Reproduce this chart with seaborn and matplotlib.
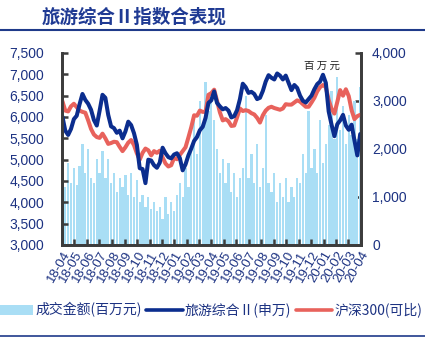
import numpy as np
import pandas as pd
import matplotlib
matplotlib.use("Agg")
import matplotlib.pyplot as plt
import matplotlib.dates as mdates
from matplotlib.patches import Patch
from matplotlib.lines import Line2D
from matplotlib.ticker import FuncFormatter, MultipleLocator
import seaborn as sns

sns.set_theme(style="white")
plt.rcParams["font.family"] = ["Liberation Sans", "Noto Sans CJK SC", "DejaVu Sans"]

# Weekly closing values, Apr 2018 - Mar 2020
tourism_index = [
    6010, 5680, 5580, 5720, 5950, 6030, 6300, 6540, 6400, 6310,
    6170, 5930, 5800, 6150, 6520, 6450, 6050, 5780, 5740, 5630,
    5680, 5500, 5660, 5890, 5810, 5620, 5350, 4800, 4780, 4450,
    5000, 4980, 4870, 4810, 4930, 5280, 5150, 5060, 5030, 5120,
    5150, 5040, 4750, 4890, 5100, 5260, 5440, 5530, 5690, 5770,
    5980, 6330, 6390, 6600, 6330, 6250, 6180, 6210, 6150, 5990,
    6020, 6160, 6420, 6780, 6700, 6565, 6590, 6540, 6420, 6450,
    6610, 6830, 6980, 6920, 6880, 7020, 6970, 6880, 6970, 6800,
    6630, 6750, 6680, 6500, 6380, 6340, 6420, 6500, 6650, 6770,
    6830, 6990, 6800, 6130, 5820, 5550, 5830, 5920, 6050, 5800,
    5700, 5820, 5450, 5100, 5600,
]
csi300_rebased = [
    6370, 6150, 6130, 6250, 6310, 6230, 6150, 6120, 6100, 5920,
    5720, 5590, 5530, 5510, 5610, 5500, 5370, 5390, 5420, 5410,
    5300, 5200, 5290, 5400, 5460, 5340, 5150, 5000, 5160, 5260,
    5220, 5100, 5200, 5160, 5210, 5050, 4910, 4840, 4870, 5040,
    5010, 5110, 5200, 5290, 5520, 5760, 6040, 6030, 6150, 6120,
    6120, 6520, 6560, 6640, 6380, 6110, 5920, 5950, 5900, 5790,
    5800, 5990, 6200, 6140, 6160, 6140, 6090, 6060, 5980, 5870,
    6040, 6150, 6215, 6240, 6210, 6190, 6170, 6200, 6300, 6290,
    6290, 6340, 6390, 6360, 6300, 6240, 6240, 6340, 6450, 6600,
    6700, 6750, 6700, 6400, 6190, 6080, 6350, 6630, 6500, 6650,
    6490, 6160, 5950, 6020, 6050,
]
turnover = [
    1500, 1200, 1700, 1300, 1600, 1250, 1650, 2100, 1500, 2000,
    1400, 1300, 1800, 1500, 1950, 1400, 1800, 1300, 1500, 1100,
    1400, 1200, 1450, 1050, 1500, 1000, 1350, 900, 1050, 800,
    1000, 750, 900, 700, 800, 550, 1000, 650, 900, 700,
    1050, 1300, 1000, 1600, 1200, 2000, 2600, 1900, 3000, 2500,
    3400, 2800, 3100, 2600, 2000, 1500, 1800, 1300, 1700, 1100,
    1500, 1000, 1400, 1600, 3100, 1400, 1900, 1300, 2100, 1200,
    1600, 2700, 1300, 1100, 1500, 900, 1300, 1000, 1400, 900,
    1200, 1000, 1400, 1300, 1900, 1500, 2800, 1600, 2000, 1500,
    2600, 1700, 2100, 2500, 3200, 2200, 3500, 2400, 2900, 2100,
    2700, 2300, 3000, 2200, 3300,
]

dates = pd.date_range("2018-04-02", periods=len(tourism_index), freq="7D")
df = pd.DataFrame({
    "date": dates,
    "旅游综合Ⅱ(申万)": tourism_index,
    "沪深300(可比)": csi300_rebased,
    "成交金额(百万元)": turnover,
})

navy = "#1c3282"
blue_line = "#0b2d8e"
red_line = "#e8625c"
bar_color = "#a9def5"
spine_color = "#3c3c3c"

W, H = 425, 339
fig = plt.figure(figsize=(W / 100, H / 100), dpi=100)
fig.patch.set_facecolor("white")

x0, x1, ytop, ybot = 62, 361, 53, 245
ax = fig.add_axes([x0 / W, 1 - ybot / H, (x1 - x0) / W, (ybot - ytop) / H])
ax2 = ax.twinx()

# turnover bars on the right axis, drawn beneath the index lines
ax2.bar(df["date"], df["成交金额(百万元)"], width=5.6, color=bar_color,
        edgecolor="none")
ax2.set_ylim(0, 4000)
ax2.yaxis.set_major_locator(MultipleLocator(1000))

sns.lineplot(data=df, x="date", y="沪深300(可比)", ax=ax, color=red_line,
             linewidth=2.9, legend=False)
sns.lineplot(data=df, x="date", y="旅游综合Ⅱ(申万)", ax=ax, color=blue_line,
             linewidth=2.9, legend=False)
ax.set_zorder(ax2.get_zorder() + 1)
ax.patch.set_visible(False)

ax.set_ylim(3000, 7500)
ax.yaxis.set_major_locator(MultipleLocator(500))
ax.set_xlim(pd.Timestamp("2018-04-01"), pd.Timestamp("2020-04-01"))
ax.xaxis.set_major_locator(mdates.MonthLocator())
ax.xaxis.set_major_formatter(mdates.DateFormatter("%y-%m"))
ax.set_xlabel("")
ax.set_ylabel("")
ax2.set_ylabel("")

comma = FuncFormatter(lambda v, p: f"{int(v):,}")
ax.yaxis.set_major_formatter(comma)
ax2.yaxis.set_major_formatter(comma)

for a in (ax, ax2):
    a.spines["top"].set_visible(False)
    for side in ("left", "right", "bottom"):
        a.spines[side].set_color(spine_color)
        a.spines[side].set_linewidth(2.0)

ax.tick_params(axis="y", direction="in", length=4, width=1.8, color=spine_color,
               labelsize=10, labelcolor=navy, pad=13, left=True)
ax2.tick_params(axis="y", direction="in", length=4, width=1.8, color=spine_color,
                labelsize=10, labelcolor=navy, pad=8, right=True)
ax.tick_params(axis="x", direction="in", length=4, width=1.8, color=spine_color,
               labelsize=9.5, labelcolor=navy, pad=3, bottom=True)
for lab in ax.get_xticklabels():
    lab.set_rotation(60)
    lab.set_ha("right")
    lab.set_rotation_mode("anchor")
ax.grid(False)
ax2.grid(False)

ax.text(0.93, 0.96, "百 万 元", transform=ax.transAxes, ha="right", va="top",
        fontsize=7.5, color="#222222", family=["Noto Sans CJK SC"])

# header
fig.text(42 / W, 1 - 17 / H, "旅游综合Ⅱ指数合表现", ha="left", va="center",
         fontsize=13.3, fontweight="bold", color="#1f3a93",
         family=["Noto Sans CJK SC"])
fig.add_artist(Line2D([0, 1], [1 - 29.5 / H, 1 - 29.5 / H], color="#1f3a8a",
                      linewidth=1.5, transform=fig.transFigure))
fig.add_artist(Line2D([0, 1], [1 - 336 / H, 1 - 336 / H], color="#1f3a8a",
                      linewidth=1.2, transform=fig.transFigure))

handles = [
    Patch(facecolor=bar_color, edgecolor="none", label="成交金额(百万元)"),
    Line2D([], [], color=blue_line, linewidth=2.6, label="旅游综合Ⅱ(申万)"),
    Line2D([], [], color=red_line, linewidth=2.6, label="沪深300(可比)"),
]
leg = fig.legend(handles=handles, loc="center", bbox_to_anchor=(209.5 / W, 1 - 310 / H),
                 ncol=3, frameon=False, handlelength=2.6, handletextpad=0.15,
                 columnspacing=0.35, borderpad=0, prop={"family": ["Noto Sans CJK SC"], "size": 10})
for t in leg.get_texts():
    t.set_color(navy)

fig.savefig("out.png", dpi=100, facecolor="white")
